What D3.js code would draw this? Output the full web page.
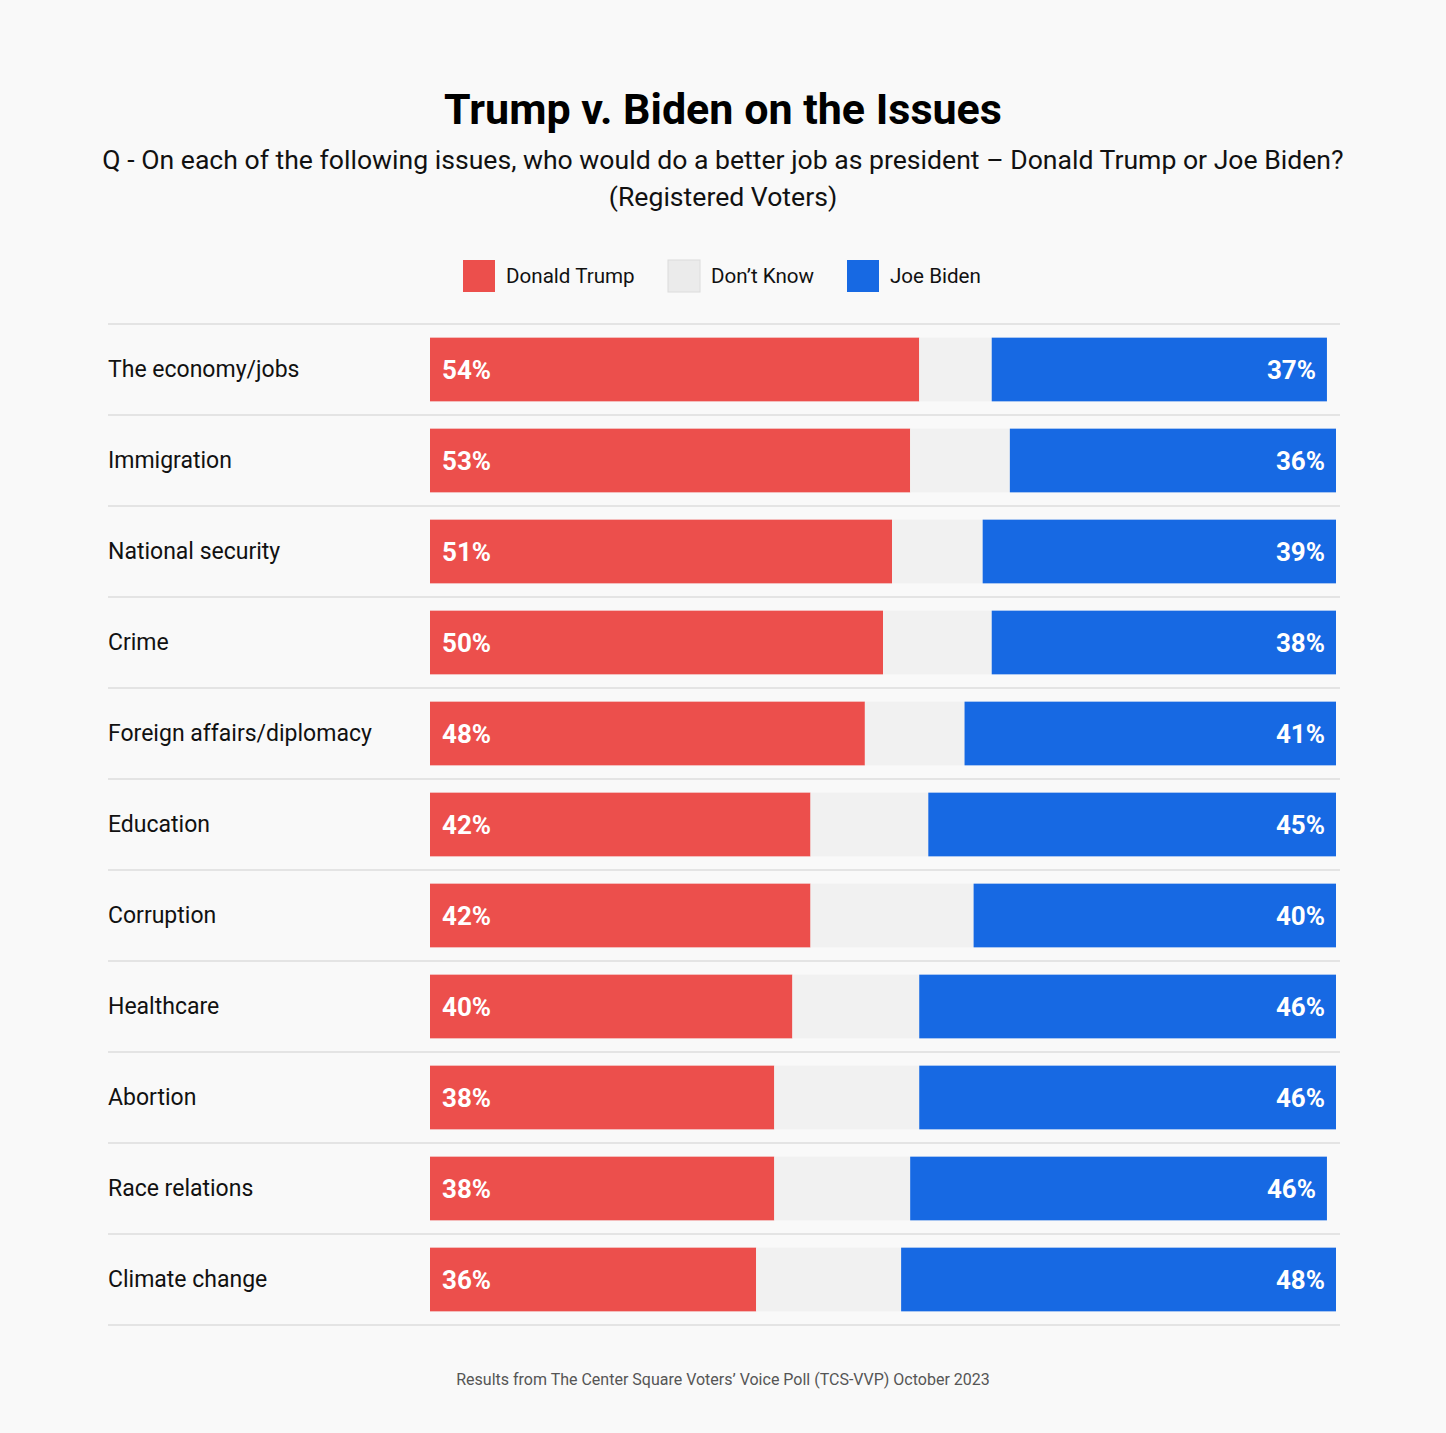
<!DOCTYPE html>
<html>
<head>
<meta charset="utf-8">
<script src="https://cdn.jsdelivr.net/npm/d3@7"></script>
<style>
  body { margin: 0; background: #f9f9f9; }
  svg { display: block; font-family: Roboto, "Noto Sans", sans-serif; }
</style>
</head>
<body>
<div id="chart"></div>
<script>
// data
var issues = ["The economy/jobs", "Immigration", "National security", "Crime",
  "Foreign affairs/diplomacy", "Education", "Corruption", "Healthcare",
  "Abortion", "Race relations", "Climate change"];
var trump = [54, 53, 51, 50, 48, 42, 42, 40, 38, 38, 36];
var dontKnow = [8, 11, 10, 12, 11, 13, 18, 14, 16, 15, 16];
var biden = [37, 36, 39, 38, 41, 45, 40, 46, 46, 46, 48];

var seriesNames = ["Donald Trump", "Don\u2019t Know", "Joe Biden"];
var seriesColors = ["#ec4f4c", "#f1f1f1", "#1769e3"];

var svgWidth = 1446;
var svgHeight = 1433;

var margin = { top: 324, left: 108, right: 106, bottom: 108 };
var barLeft = 430;
var barRight = 1336;
var rowHeight = 91;

var svg = d3.select("#chart")
  .append("svg")
  .attr("width", svgWidth)
  .attr("height", svgHeight);

svg.append("rect")
  .attr("width", svgWidth)
  .attr("height", svgHeight)
  .attr("fill", "#f9f9f9");

// title block
svg.append("text")
  .attr("x", svgWidth / 2)
  .attr("y", 124)
  .attr("text-anchor", "middle")
  .attr("font-size", "43px")
  .attr("font-weight", "bold")
  .attr("fill", "#000")
  .text("Trump v. Biden on the Issues");

svg.append("text")
  .attr("x", svgWidth / 2)
  .attr("y", 169)
  .attr("text-anchor", "middle")
  .attr("font-size", "26.6px")
  .attr("fill", "#111")
  .text("Q - On each of the following issues, who would do a better job as president \u2013 Donald Trump or Joe Biden?");

svg.append("text")
  .attr("x", svgWidth / 2)
  .attr("y", 206)
  .attr("text-anchor", "middle")
  .attr("font-size", "26.6px")
  .attr("fill", "#111")
  .text("(Registered Voters)");

// legend
var legendX = [463, 668, 847];
var legend = svg.append("g");
seriesNames.forEach(function(name, i) {
  legend.append("rect")
    .attr("x", legendX[i])
    .attr("y", 260)
    .attr("width", 32)
    .attr("height", 32)
    .attr("fill", i === 1 ? "#ebebeb" : seriesColors[i])
    .attr("stroke", i === 1 ? "#dcdcdc" : "none");
  legend.append("text")
    .attr("x", legendX[i] + 43)
    .attr("y", 283)
    .attr("font-size", "20.6px")
    .attr("fill", "#111")
    .text(name);
});

// scales
var x = d3.scaleLinear().domain([0, 100]).range([barLeft, barRight]);
var y = d3.scaleBand()
  .domain(issues)
  .range([margin.top, margin.top + rowHeight * issues.length])
  .paddingInner(0.3)
  .paddingOuter(0.15);

var rows = issues.map(function(d, i) {
  return { issue: d, trump: trump[i], dk: dontKnow[i], biden: biden[i] };
});

var stack = d3.stack().keys(["trump", "dk", "biden"]);
var stacked = stack(rows);

// separators
var lines = d3.range(issues.length + 1);
svg.append("g").selectAll("line")
  .data(lines)
  .enter()
  .append("line")
  .attr("x1", margin.left)
  .attr("x2", svgWidth - margin.right)
  .attr("y1", d => margin.top + d * rowHeight)
  .attr("y2", d => margin.top + d * rowHeight)
  .attr("stroke", "#dcdcdc")
  .attr("stroke-width", 1.5);

// bars
svg.append("g").selectAll("g")
  .data(stacked)
  .enter()
  .append("g")
  .attr("fill", (d, i) => seriesColors[i])
  .selectAll("rect")
  .data(d => d)
  .enter()
  .append("rect")
  .attr("x", d => x(d[0]))
  .attr("y", d => y(d.data.issue))
  .attr("width", d => x(d[1]) - x(d[0]))
  .attr("height", y.bandwidth());

// category labels
svg.append("g").selectAll("text")
  .data(issues)
  .enter()
  .append("text")
  .attr("x", margin.left)
  .attr("y", d => y(d) + y.bandwidth() / 2 + 7)
  .attr("font-size", "23px")
  .attr("fill", "#111")
  .text(d => d);

// value labels
svg.append("g").selectAll("text")
  .data(rows)
  .enter()
  .append("text")
  .attr("x", x(0) + 12)
  .attr("y", d => y(d.issue) + y.bandwidth() / 2 + 9)
  .attr("font-size", "26px")
  .attr("font-weight", "bold")
  .attr("fill", "#fff")
  .text(d => d.trump + "%");

svg.append("g").selectAll("text")
  .data(rows)
  .enter()
  .append("text")
  .attr("x", d => x(d.trump + d.dk + d.biden) - 11)
  .attr("y", d => y(d.issue) + y.bandwidth() / 2 + 9)
  .attr("text-anchor", "end")
  .attr("font-size", "26px")
  .attr("font-weight", "bold")
  .attr("fill", "#fff")
  .text(d => d.biden + "%");

// source note
svg.append("text")
  .attr("x", svgWidth / 2)
  .attr("y", 1385)
  .attr("text-anchor", "middle")
  .attr("font-size", "16px")
  .attr("fill", "#555")
  .text("Results from The Center Square Voters\u2019 Voice Poll (TCS-VVP) October 2023");
</script>
</body>
</html>
